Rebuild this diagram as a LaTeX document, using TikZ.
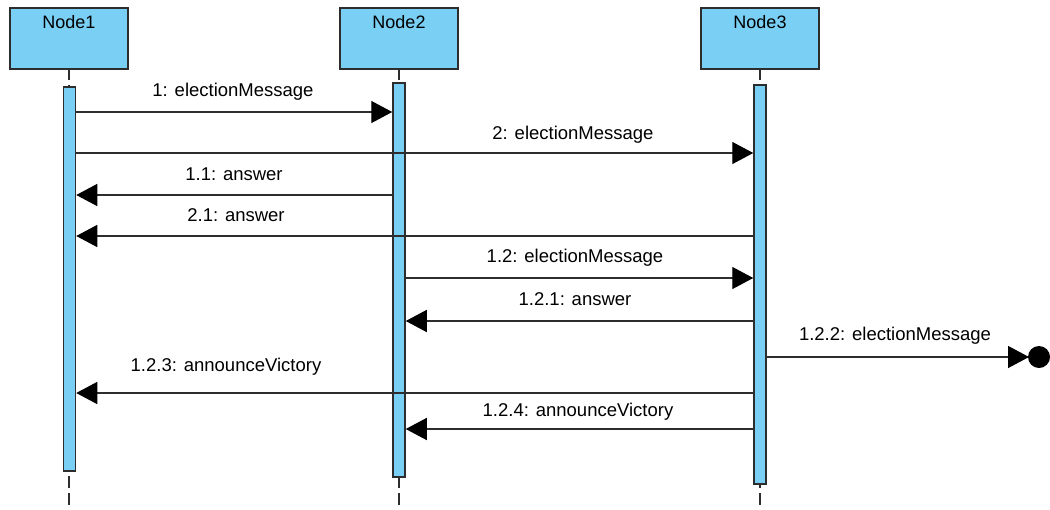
\documentclass[tikz,border=0pt]{standalone}
\usepackage{fontspec}
\setmainfont{Liberation Sans}
\usetikzlibrary{arrows.meta,calc}
\definecolor{lifefill}{RGB}{122,207,245}
\definecolor{edge}{RGB}{45,45,45}
\tikzset{
  actor/.style={draw=edge, fill=lifefill, line width=1.8pt, minimum width=118pt, minimum height=61pt, anchor=north, inner sep=0pt},
  actorname/.style={font=\fontsize{18}{21}\selectfont, anchor=center},
  bar/.style={draw=edge, fill=lifefill, line width=1.5pt, minimum width=12pt, anchor=north, inner sep=0pt},
  life/.style={draw=edge, line width=1.6pt, dash pattern=on 12pt off 5pt},
  msg/.style={draw=edge, line width=1.4pt, -{Triangle[length=21pt,width=22pt,fill=black,color=black]}},
  lbl/.style={font=\fontsize{18.5}{22}\selectfont, anchor=center},
}
\begin{document}
\begin{tikzpicture}[x=1pt,y=-1pt]
\useasboundingbox (0,0) rectangle (1050,509);

% lifelines behind everything
\draw[life] (69,68) -- (69,509);
\draw[life] (399,68) -- (399,509);
\draw[life] (760,68) -- (760,509);

% participants
\node[actor] (n1) at (69,7) {};
\node[actor] (n2) at (399,7) {};
\node[actor] (n3) at (760,7) {};
\node[actorname] at (69,22) {Node1};
\node[actorname] at (399,22) {Node2};
\node[actorname] at (760,22) {Node3};

% activation bars
\node[bar, minimum height=384pt] (b1) at (69.5,86) {};
\node[bar, minimum height=394pt] (b2) at (399,82) {};
\node[bar, minimum height=399pt] (b3) at (760,84) {};

% message rows
\coordinate (y1) at (0,112);
\coordinate (y2) at (0,153);
\coordinate (y3) at (0,195);
\coordinate (y4) at (0,236);
\coordinate (y5) at (0,278);
\coordinate (y6) at (0,321);
\coordinate (y7) at (0,357);
\coordinate (y8) at (0,393);
\coordinate (y9) at (0,429);
\coordinate (lost) at (1029,357);

\draw[msg] (b1.east |- y1) -- (b2.west |- y1);
\node[lbl] at (233,92) {1: electionMessage};

\draw[msg] (b1.east |- y2) -- (b3.west |- y2);
\node[lbl] at (573,135) {2: electionMessage};

\draw[msg] (b2.west |- y3) -- (b1.east |- y3);
\node[lbl] at (234,174) {1.1: answer};

\draw[msg] (b3.west |- y4) -- (b1.east |- y4);
\node[lbl] at (236,215) {2.1: answer};

\draw[msg] (b2.east |- y5) -- (b3.west |- y5);
\node[lbl] at (575,258) {1.2: electionMessage};

\draw[msg] (b3.west |- y6) -- (b2.east |- y6);
\node[lbl] at (575,299) {1.2.1: answer};

\draw[msg] (b3.east |- y7) -- (lost);
\fill[black] ($(lost)+(10,0)$) circle (11);
\node[lbl] at (895,336) {1.2.2: electionMessage};

\draw[msg] (b3.west |- y8) -- (b1.east |- y8);
\node[lbl] at (226,367) {1.2.3: announceVictory};

\draw[msg] (b3.west |- y9) -- (b2.east |- y9);
\node[lbl] at (578,412) {1.2.4: announceVictory};
\end{tikzpicture}
\end{document}
